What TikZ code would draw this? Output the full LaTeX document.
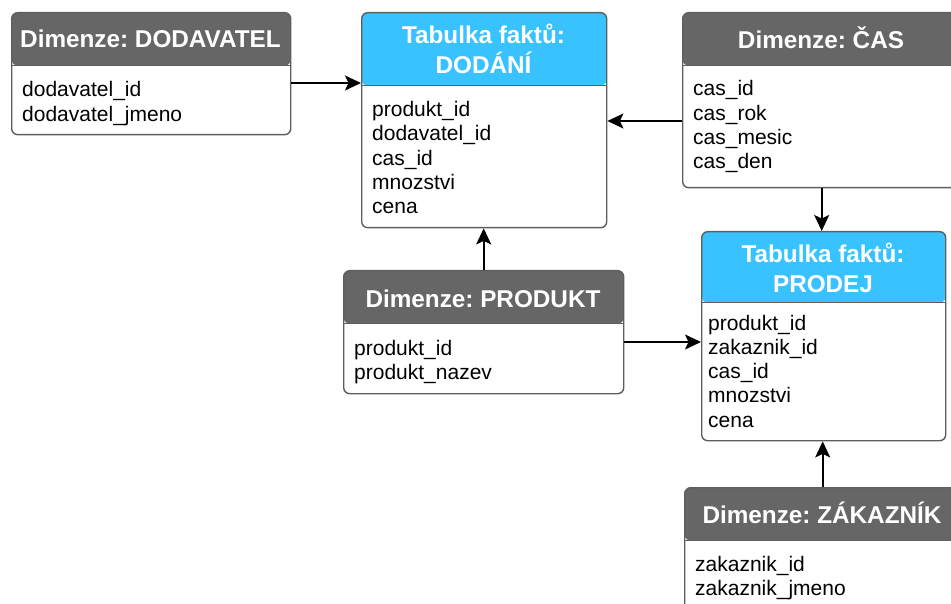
\documentclass[tikz,border=0pt]{standalone}
\usepackage{fontspec}
\setmainfont{Liberation Sans}
\usetikzlibrary{arrows.meta}
\frenchspacing

\definecolor{hdrgray}{HTML}{666666}
\definecolor{hdrblue}{HTML}{38C2FF}
\definecolor{framegray}{HTML}{5E5E5E}

\tikzset{
  tablebox/.style={draw=framegray, line width=1.4pt, rounded corners=6pt,
    fill=white, inner sep=0pt, anchor=north west},
  % header band of a table: colour, height in pt
  hdr/.style 2 args={path picture={
      \fill[#1] (path picture bounding box.north west) rectangle
        ([yshift=-#2pt]path picture bounding box.north east);
      \draw[framegray, line width=1.4pt]
        ([yshift=-#2pt]path picture bounding box.north west) --
        ([yshift=-#2pt]path picture bounding box.north east);}},
  % text nodes are placed by the baseline of their last line
  titletext/.style={text=white, inner sep=0pt, anchor=base, align=center,
    font=\fontsize{24.3}{29.5}\selectfont\bfseries},
  bodytext/.style={text=black, inner sep=0pt, anchor=base west, align=left,
    font=\fontsize{21}{24.3}\selectfont},
  link/.style={draw=black, line width=1.8pt,
    -{Stealth[length=16pt, width=15pt, inset=3.5pt]}}
}

\begin{document}
\begin{tikzpicture}[x=1pt, y=-1pt]
\useasboundingbox (0,0) rectangle (951,604);
\clip (0,0) rectangle (951,604);

% dimension: supplier
\node[tablebox, minimum width=279pt, minimum height=122pt, hdr={hdrgray}{53}] (dodav) at (11,12) {};
\node[titletext] (dodav-t) at (150.5,47.5) {Dimenze: DODAVATEL};
\node[bodytext] (dodav-b) at (22,121.3) {dodavatel\_id\\dodavatel\_jmeno};

% fact table: deliveries
\node[tablebox, minimum width=245pt, minimum height=215pt, hdr={hdrblue}{73}] (dodani) at (361,12) {};
\node[titletext] (dodani-t) at (483.5,73.5) {Tabulka faktů:\\DODÁNÍ};
\node[bodytext] (dodani-b) at (372,213.7) {produkt\_id\\dodavatel\_id\\cas\_id\\mnozstvi\\cena};

% dimension: time
\node[tablebox, minimum width=278pt, minimum height=175pt, hdr={hdrgray}{53}] (cas) at (682,12) {};
\node[titletext] (cas-t) at (821,48.5) {Dimenze: ČAS};
\node[bodytext] (cas-b) at (693,168.9) {cas\_id\\cas\_rok\\cas\_mesic\\cas\_den};

% fact table: sales
\node[tablebox, minimum width=244pt, minimum height=209pt, hdr={hdrblue}{71}] (prodej) at (701,231) {};
\node[titletext] (prodej-t) at (823,292) {Tabulka faktů:\\PRODEJ};
\node[bodytext] (prodej-b) at (708,427.2) {produkt\_id\\zakaznik\_id\\cas\_id\\mnozstvi\\cena};

% dimension: product
\node[tablebox, minimum width=280pt, minimum height=123pt, hdr={hdrgray}{53}] (produkt) at (343,270) {};
\node[titletext] (produkt-t) at (483,307.5) {Dimenze: PRODUKT};
\node[bodytext] (produkt-b) at (354,379.3) {produkt\_id\\produkt\_nazev};

% dimension: customer
\node[tablebox, minimum width=276pt, minimum height=150pt, hdr={hdrgray}{53}] (zak) at (684,487) {};
\node[titletext] (zak-t) at (822,523.5) {Dimenze: ZÁKAZNÍK};
\node[bodytext] (zak-b) at (695,595.8) {zakaznik\_id\\zakaznik\_jmeno};

% relations
\draw[link] (dodav.east |- 0,83) -- (dodani.west |- 0,83);
\draw[link] (cas.west |- 0,121) -- (dodani.east |- 0,121);
\draw[link] (cas.south) -- (cas.south |- prodej.north);
\draw[link] (produkt.north) -- (produkt.north |- dodani.south);
\draw[link] (produkt.east |- 0,342) -- (prodej.west |- 0,342);
\draw[link] (zak.north) -- (zak.north |- prodej.south);
\end{tikzpicture}
\end{document}
